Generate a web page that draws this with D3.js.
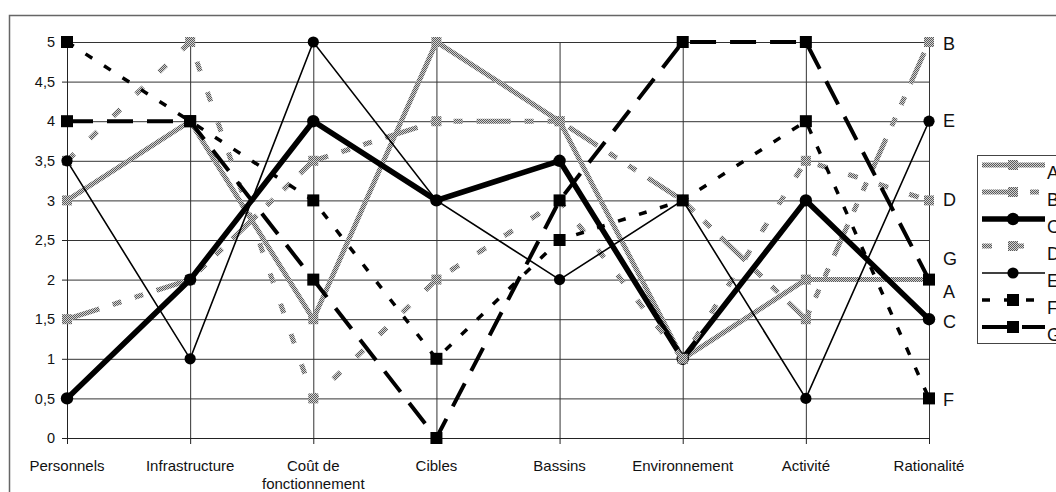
<!DOCTYPE html>
<html><head><meta charset="utf-8">
<script src="https://cdn.jsdelivr.net/npm/d3@7"></script>
<style>body{margin:0;background:#fff;} svg{display:block;font-family:"Liberation Sans",Arial,sans-serif;}</style>
</head><body><svg id="c" width="1056" height="492"></svg>
<script>
// ---- data ----
const categories = ["Personnels","Infrastructure","Coût de\nfonctionnement","Cibles","Bassins","Environnement","Activité","Rationalité"];
const seriesNames = ["A","B","C","D","E","F","G"];
const valuesA = [3, 4, 1.5, 5, 4, 1, 2, 2];
const valuesB = [1.5, 2, 3.5, 4, 4, 3, 1.5, 5];
const valuesC = [0.5, 2, 4, 3, 3.5, 1, 3, 1.5];
const valuesD = [3.5, 5, 0.5, 2, 3, 1, 3.5, 3];
const valuesE = [3.5, 1, 5, 3, 2, 3, 0.5, 4];
const valuesF = [5, 4, 3, 1, 2.5, 3, 4, 0.5];
const valuesG = [4, 4, 2, 0, 3, 5, 5, 2];
const yTickValues = [0, 0.5, 1, 1.5, 2, 2.5, 3, 3.5, 4, 4.5, 5];

// ---- styles / layout ----
const seriesValues = [valuesA, valuesB, valuesC, valuesD, valuesE, valuesF, valuesG];
const styles = {
  A: {stroke: "url(#ht)", width: 5, dash: null, marker: "square", size: 10},
  B: {stroke: "url(#ht)", width: 5, dash: "34,14,9,14,9,14", marker: "square", size: 10},
  C: {stroke: "#000", width: 5.5, dash: null, marker: "circle", size: 6.2},
  D: {stroke: "url(#ht)", width: 5, dash: "10,22", marker: "square", size: 10},
  E: {stroke: "#000", width: 1.6, dash: null, marker: "circle", size: 5.6},
  F: {stroke: "#000", width: 3.5, dash: "8,14", marker: "square", size: 12},
  G: {stroke: "#000", width: 4, dash: "26,14", marker: "square", size: 12}
};
const endLabelNudge = {A: 12, B: 2, C: 3, D: 0, E: 0, F: 2, G: -21};

const svg = d3.select("#c");
const defs = svg.append("defs");
const pat = defs.append("pattern").attr("id", "ht").attr("width", 2).attr("height", 2)
  .attr("patternUnits", "userSpaceOnUse");
pat.append("rect").attr("width", 2).attr("height", 2).attr("fill", "#d2d2d2");
pat.append("rect").attr("width", 1).attr("height", 1).attr("fill", "#5a5a5a");
pat.append("rect").attr("x", 1).attr("y", 1).attr("width", 1).attr("height", 1).attr("fill", "#5a5a5a");

// outer frame
svg.append("path").attr("d", "M9.5,492 V15.5 H1056").attr("fill", "none")
  .attr("stroke", "#666").attr("stroke-width", 1.5);

const x = d3.scalePoint().domain(categories).range([67, 929]);
const y = d3.scaleLinear().domain([0, 5]).range([438, 42]);
const fmt = v => String(v).replace(".", ",");

// horizontal grid
svg.append("g").attr("transform", "translate(67,0)")
  .call(d3.axisLeft(y).tickValues(yTickValues).tickSize(-(929 - 67)).tickFormat(""))
  .call(g => g.select(".domain").remove())
  .call(g => g.selectAll("line").attr("stroke", "#333").attr("stroke-width", 1));
// vertical grid
svg.append("g").attr("transform", "translate(0,438)")
  .call(d3.axisBottom(x).tickSize(-(438 - 42)).tickFormat(""))
  .call(g => g.select(".domain").remove())
  .call(g => g.selectAll("line").attr("stroke", "#333").attr("stroke-width", 1));
// x axis ticks
svg.append("g").attr("transform", "translate(0,438)")
  .call(d3.axisBottom(x).tickSize(6).tickFormat(""))
  .call(g => g.select(".domain").attr("stroke", "#222"))
  .call(g => g.selectAll("line").attr("stroke", "#222"));
// y axis
const ya = svg.append("g").attr("transform", "translate(67,0)")
  .call(d3.axisLeft(y).tickValues(yTickValues).tickSize(5).tickPadding(7).tickFormat(fmt));
ya.select(".domain").attr("stroke", "#222");
ya.selectAll("line").attr("stroke", "#222");
ya.selectAll("text").attr("font-size", 14.5).attr("font-family", "Liberation Sans, Arial, sans-serif").attr("fill", "#111");

// category labels
const cl = svg.append("g").attr("font-size", 15).attr("fill", "#111").attr("text-anchor", "middle");
categories.forEach(c => {
  const t = cl.append("text").attr("x", x(c)).attr("y", 471);
  c.split("\n").forEach((part, i) => {
    t.append("tspan").attr("x", x(c)).attr("dy", i === 0 ? 0 : 18).text(part);
  });
});

function drawMarker(g, st, cx, cy) {
  const fill = st.stroke;
  if (st.marker === "circle") {
    g.append("circle").attr("cx", cx).attr("cy", cy).attr("r", st.size).attr("fill", fill);
  } else {
    g.append("rect").attr("x", cx - st.size / 2).attr("y", cy - st.size / 2)
      .attr("width", st.size).attr("height", st.size).attr("fill", fill);
  }
}

const line = d3.line().x((d, i) => x(categories[i])).y(d => y(d));
seriesNames.forEach((name, si) => {
  const st = styles[name];
  const vals = seriesValues[si];
  const g = svg.append("g");
  g.append("path").attr("d", line(vals)).attr("fill", "none")
    .attr("stroke", st.stroke).attr("stroke-width", st.width)
    .attr("stroke-dasharray", st.dash).attr("stroke-linejoin", "miter");
  vals.forEach((v, i) => drawMarker(g, st, x(categories[i]), y(v)));
});

// end labels
const el = svg.append("g").attr("font-size", 18).attr("fill", "#111");
seriesNames.forEach((name, si) => {
  const vals = seriesValues[si];
  el.append("text").attr("x", 943).attr("y", y(vals[vals.length - 1]) + endLabelNudge[name])
    .attr("dominant-baseline", "central").text(name);
});

// legend (the reference's legend runs past the right edge of the picture)
const lg = svg.append("g");
lg.append("rect").attr("x", 977.5).attr("y", 155.5).attr("width", 120).attr("height", 188)
  .attr("fill", "#fff").attr("stroke", "#444");
seriesNames.forEach((name, i) => {
  const st = styles[name];
  const ly = 165 + i * 27;
  lg.append("line").attr("x1", 982).attr("x2", 1045).attr("y1", ly).attr("y2", ly)
    .attr("stroke", st.stroke).attr("stroke-width", st.width).attr("stroke-dasharray", st.dash);
  drawMarker(lg, st, 1013, ly);
  lg.append("text").attr("x", 1047).attr("y", ly + 8).attr("font-size", 18)
    .attr("dominant-baseline", "central").attr("fill", "#111").text(name);
});
</script></body></html>
